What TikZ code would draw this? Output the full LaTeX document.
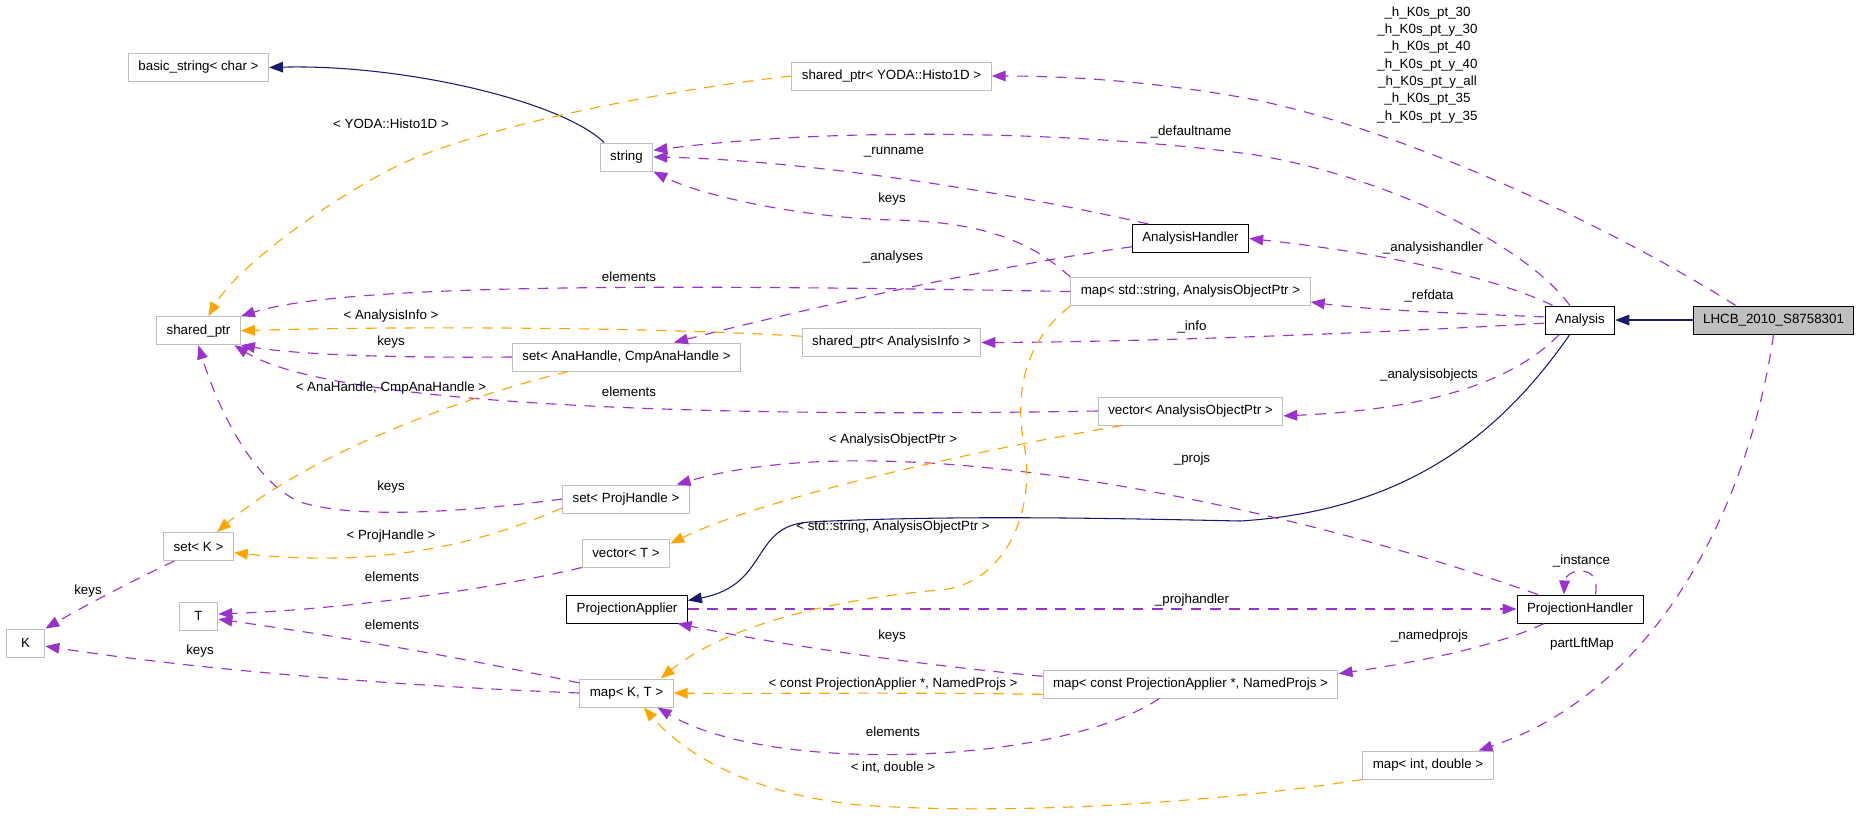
\documentclass[tikz,border=0pt]{standalone}
\usepackage{fontspec}
\setmainfont{Liberation Sans}
\usetikzlibrary{arrows.meta}

\definecolor{usecol}{HTML}{9A32CD}
\definecolor{tmplcol}{HTML}{FFA500}
\definecolor{inhcol}{HTML}{191970}
\definecolor{boxgray}{HTML}{BFBFBF}

\tikzset{
  cls/.style={draw=boxgray,line width=0.75pt,rectangle,inner xsep=7.5pt,inner ysep=0pt,
    minimum height=21pt,minimum width=29pt,font=\fontsize{10}{12}\selectfont},
  doc/.style={cls,draw=black},
  cur/.style={cls,draw=black,fill=boxgray},
  uses/.style={usecol,line width=0.85pt,dash pattern=on 8pt off 6.5pt,-{Triangle[length=10.5pt,width=8pt]}},
  tmpl/.style={uses,tmplcol},
  inh/.style={inhcol,line width=0.8pt,-{Triangle[length=10.5pt,width=8pt]}},
  lbl/.style={inner sep=0pt,font=\fontsize{10}{12}\selectfont}
}

\begin{document}
\begin{tikzpicture}[x=0.75pt,y=-0.75pt]
  \useasboundingbox (0,0) rectangle (1859,815);

  % classes
  \node[cls] (bstr)     at (198.5,67.5)  {basic\_string< char >};
  \node[cls] (shyoda)   at (891.5,76)    {shared\_ptr< YODA::Histo1D >};
  \node[cls] (str)      at (626.5,157)   {string};
  \node[doc] (ahandler) at (1190.5,238.5) {AnalysisHandler};
  \node[cls] (shptr)    at (198.5,330.7) {shared\_ptr};
  \node[cls] (mapstr)   at (1190.5,291.5) {map< std::string, AnalysisObjectPtr >};
  \node[cls] (shinfo)   at (891.5,342.5) {shared\_ptr< AnalysisInfo >};
  \node[cls] (setana)   at (626.5,357)   {set< AnaHandle, CmpAnaHandle >};
  \node[doc] (ana)      at (1580,320)    {Analysis};
  \node[cur] (lhcb)     at (1773.5,320)  {LHCB\_2010\_S8758301};
  \node[cls] (vecaop)   at (1190.5,411)  {vector< AnalysisObjectPtr >};
  \node[cls] (setproj)  at (626,499)     {set< ProjHandle >};
  \node[cls] (setk)     at (198.5,546.5) {set< K >};
  \node[cls] (vect)     at (626,553)     {vector< T >};
  \node[cls] (tt)       at (198.5,616)   {T};
  \node[doc] (papp)     at (627,609)     {ProjectionApplier};
  \node[doc] (phand)    at (1580,609)    {ProjectionHandler};
  \node[cls] (kk)       at (25.5,643)    {K};
  \node[cls] (mapkt)    at (626.5,693)   {map< K, T >};
  \node[cls] (mappa)    at (1190.5,684)  {map< const ProjectionApplier *, NamedProjs >};
  \node[cls] (mapid)    at (1428,765)    {map< int, double >};

  % inheritance
  \draw[inh] (lhcb.west) -- (ana.east);
  \draw[inh] (str.147) .. controls (560,100) and (400,64) .. (bstr.east);
  \draw[inh] (ana.235) .. controls (1510,420) and (1420,510) .. (1240,521)
    .. controls (1100,518) and (950,515) .. (810,522)
    .. controls (750,525) and (770,585) .. (papp.8);

  % members
  \draw[uses] (lhcb.159) .. controls (1600,220) and (1400,130) .. (1256,100)
    .. controls (1150,80) and (1060,76) .. (shyoda.east);
  \draw[uses] (ana.125) .. controls (1530,250) and (1400,180) .. (1256,155)
    .. controls (1100,133) and (850,125) .. (str.14);
  \draw[uses] (ahandler.161) .. controls (1000,190) and (800,160) .. (str.east);
  \draw[uses] (mapstr.north west) .. controls (1030,240) and (980,222) .. (895,220)
    .. controls (800,218) and (700,195) .. (str.south east);
  \draw[uses] (ana.152) .. controls (1500,280) and (1400,255) .. (ahandler.east);
  \draw[uses] (ahandler.188) .. controls (1000,265) and (800,310) .. (setana.17);
  \draw[uses] (mapstr.west) .. controls (700,285) and (350,282) .. (shptr.north east);
  \draw[uses] (setana.west) .. controls (400,358) and (300,355) .. (shptr.south east);
  \draw[uses] (vecaop.west) .. controls (700,418) and (330,405) .. (shptr.-22);
  \draw[uses] (setproj.west) .. controls (450,514) and (350,518) .. (300,502)
    .. controls (250,480) and (215,400) .. (shptr.south);
  \draw[uses] (phand.161) .. controls (1300,510) and (900,420) .. (setproj.16);
  \draw[uses] (papp.east) -- (phand.west);
  \draw[uses] (phand.43) .. controls (1598,578) and (1592,571) .. (1580,571)
    .. controls (1568,571) and (1564.5,580) .. (phand.138);
  \draw[uses] (phand.202) .. controls (1500,645) and (1420,662) .. (mappa.4);
  \draw[uses] (mappa.177) .. controls (920,665) and (780,645) .. (papp.-16);
  \draw[uses] (mappa.205) .. controls (1060,765) and (770,775) .. (mapkt.-25);
  \draw[uses] (lhcb.south) .. controls (1750,500) and (1660,690) .. (mapid.16);
  \draw[uses] (vect.south west) .. controls (480,592) and (330,610) .. (tt.6);
  \draw[uses] (mapkt.168) .. controls (450,655) and (330,635) .. (tt.-9);
  \draw[uses] (mapkt.west) .. controls (400,686) and (200,670) .. (kk.-9);
  \draw[uses] (setk.211) .. controls (130,582) and (90,603) .. (kk.north east);
  \draw[uses] (ana.175) .. controls (1450,313) and (1370,310) .. (mapstr.-5);
  \draw[uses] (ana.185) .. controls (1400,332) and (1150,342) .. (shinfo.east);
  \draw[uses] (ana.215) .. controls (1510,385) and (1420,410) .. (vecaop.-3);

  % template arguments
  \draw[tmpl] (shyoda.west) .. controls (680,88) and (480,125) .. (395,167)
    .. controls (320,205) and (235,270) .. (shptr.56);
  \draw[tmpl] (shinfo.176) .. controls (650,327) and (400,326) .. (shptr.east);
  \draw[tmpl] (setana.194) .. controls (450,400) and (300,460) .. (setk.38);
  \draw[tmpl] (setproj.188) .. controls (500,535) and (400,570) .. (setk.-10);
  \draw[tmpl] (vecaop.192) .. controls (950,455) and (760,500) .. (vect.12);
  \draw[tmpl] (mappa.184) .. controls (900,692) and (750,694) .. (mapkt.east);
  \draw[tmpl] (mapid.south west) .. controls (1200,805) and (1000,815) .. (860,805)
    .. controls (760,795) and (690,760) .. (mapkt.-40);
  \draw[tmpl] (mapstr.south west) .. controls (1020,345) and (1015,400) .. (1025,450)
    .. controls (1035,520) and (1000,585) .. (940,590)
    .. controls (820,600) and (720,630) .. (mapkt.23);

  % labels
  \node[lbl,align=center,font=\fontsize{10}{13}\selectfont] (lhisto) at (1427.5,64.7)
    {\_h\_K0s\_pt\_30\\\_h\_K0s\_pt\_y\_30\\\_h\_K0s\_pt\_40\\\_h\_K0s\_pt\_y\_40\\%
     \_h\_K0s\_pt\_y\_all\\\_h\_K0s\_pt\_35\\\_h\_K0s\_pt\_y\_35};
  \node[lbl] (lyoda)     at (391,124)    {< YODA::Histo1D >};
  \node[lbl] (ldefname)  at (1191,132)   {\_defaultname};
  \node[lbl] (lrunname)  at (894,152)    {\_runname};
  \node[lbl] (lstrkeys)  at (892,199)    {keys};
  \node[lbl] (lahandler) at (1433,248)   {\_analysishandler};
  \node[lbl] (lanalyses) at (893,257)    {\_analyses};
  \node[lbl] (lmapelem)  at (629,277)    {elements};
  \node[lbl] (lrefdata)  at (1429,296)   {\_refdata};
  \node[lbl] (linfoarg)  at (391,316)    {< AnalysisInfo >};
  \node[lbl] (linfo)     at (1192,327)   {\_info};
  \node[lbl] (lsetkeys)  at (391,342)    {keys};
  \node[lbl] (laobjs)    at (1429,375)   {\_analysisobjects};
  \node[lbl] (lanaarg)   at (391,388)    {< AnaHandle, CmpAnaHandle >};
  \node[lbl] (lvecelem)  at (629,392)    {elements};
  \node[lbl] (laoparg)   at (893,440)    {< AnalysisObjectPtr >};
  \node[lbl] (lprojs)    at (1192,459)   {\_projs};
  \node[lbl] (lprojkeys) at (391,487)    {keys};
  \node[lbl] (lstrarg)   at (893,527)    {< std::string, AnalysisObjectPtr >};
  \node[lbl] (lprojarg)  at (391,536)    {< ProjHandle >};
  \node[lbl] (linstance) at (1581.5,561) {\_instance};
  \node[lbl] (ltelem)    at (392,577)    {elements};
  \node[lbl] (lkkeys)    at (88,591)     {keys};
  \node[lbl] (lphandler) at (1192,600)   {\_projhandler};
  \node[lbl] (ltelem2)   at (392,625)    {elements};
  \node[lbl] (lpakeys)   at (892,636)    {keys};
  \node[lbl] (lnamed)    at (1429.5,636) {\_namedprojs};
  \node[lbl] (lpartlft)  at (1582,644)   {partLftMap};
  \node[lbl] (lkkeys2)   at (200,651)    {keys};
  \node[lbl] (lpaarg)    at (893,684)    {< const ProjectionApplier *, NamedProjs >};
  \node[lbl] (lmapelem2) at (893,732)    {elements};
  \node[lbl] (lidarg)    at (893,768)    {< int, double >};
\end{tikzpicture}
\end{document}
